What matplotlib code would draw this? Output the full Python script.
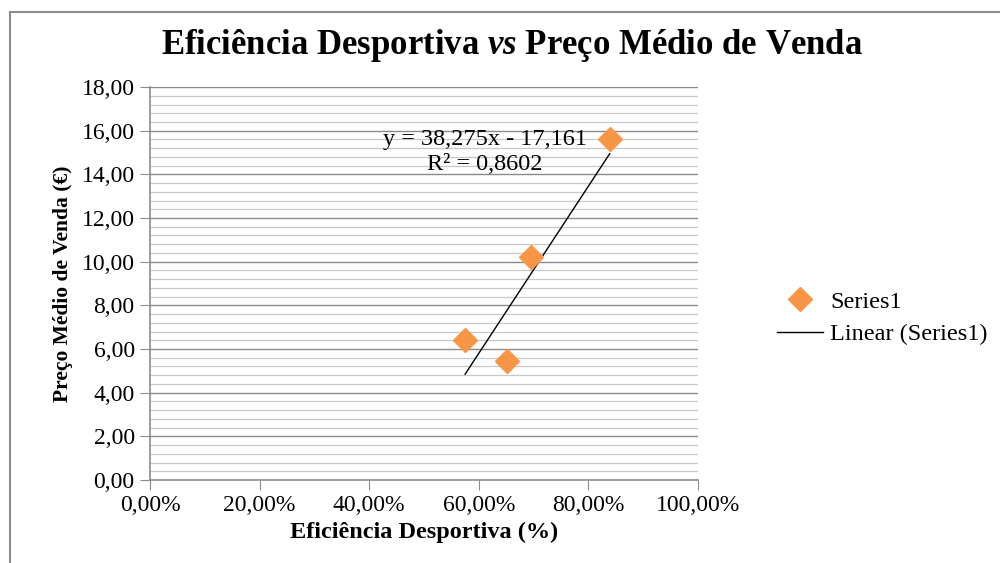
import matplotlib.pyplot as plt
import matplotlib.lines as mlines
import numpy as np
from matplotlib.ticker import MultipleLocator, FuncFormatter

# Eficiência desportiva vs preço médio de venda
eficiencia = [0.839, 0.695, 0.575, 0.651]
preco = [15.62, 10.20, 6.41, 5.45]

# recta de tendência (Excel)
declive = 38.275
ordenada = -17.161
r2 = 0.8602

laranja = '#F79646'
plt.rcParams['font.family'] = ['Liberation Serif', 'DejaVu Serif']
plt.rcParams['mathtext.fontset'] = 'custom'
plt.rcParams['mathtext.rm'] = 'Liberation Serif'
plt.rcParams['mathtext.bfit'] = 'Liberation Serif:italic:bold'

fig = plt.figure(figsize=(10, 5.63), dpi=100)
ax = fig.add_axes([0.15, 0.1474, 0.548, 0.698])

# moldura do gráfico
fig.add_artist(mlines.Line2D([0.010, 1.0], [1 - 12 / 563, 1 - 12 / 563], color='#8c8c8c', lw=1.5))
fig.add_artist(mlines.Line2D([0.010, 0.010], [0, 1 - 12 / 563], color='#8c8c8c', lw=1.5))

ax.set_xlim(0, 1)
ax.set_ylim(0, 18)
ax.yaxis.set_major_locator(MultipleLocator(2))
ax.yaxis.set_minor_locator(MultipleLocator(0.4))
ax.xaxis.set_major_locator(MultipleLocator(0.2))
ax.grid(which='major', axis='y', color='#8a8a8a', lw=1)
ax.grid(which='minor', axis='y', color='#c8c8c8', lw=0.9)
ax.set_axisbelow(True)

ax.yaxis.set_major_formatter(FuncFormatter(lambda v, p: f'{v:.2f}'.replace('.', ',')))
ax.xaxis.set_major_formatter(FuncFormatter(lambda v, p: f'{v * 100:.2f}%'.replace('.', ',')))

for s in ['top', 'right']:
    ax.spines[s].set_visible(False)
for s in ['left', 'bottom']:
    ax.spines[s].set_color('#8c8c8c')
    ax.spines[s].set_linewidth(1.2)
ax.tick_params(which='major', direction='out', length=7, color='#8c8c8c', labelsize=17, pad=4)
ax.tick_params(which='minor', length=0)

xs = np.array([min(eficiencia), max(eficiencia)])
ax.plot(xs, declive * xs + ordenada, color='black', lw=1, label='Linear (Series1)')
ax.plot(eficiencia, preco, 'D', color=laranja, markersize=12, label='Series1')

ax.text(0.611, 15.35, 'y = 38,275x - 17,161', ha='center', va='baseline', fontsize=17.5)
ax.text(0.611, 14.2, 'R² = ' + f'{r2:.4f}'.replace('.', ','),
        ha='center', va='baseline', fontsize=17.5)

ax.set_xlabel('Eficiência Desportiva (%)', fontsize=17.5, fontweight='bold', labelpad=4)
ax.set_ylabel('Preço Médio de Venda (€)', fontsize=15.5, fontweight='bold', labelpad=6)

fig.text(0.5125, 1 - 46 / 563, r'Eficiência Desportiva $\mathbfit{vs}$ Preço Médio de Venda',
         ha='center', va='center', fontsize=25, fontweight='bold')

h, l = ax.get_legend_handles_labels()
fig.legend(h[::-1], l[::-1], loc='center left', bbox_to_anchor=(0.755, 1 - 318 / 563),
           frameon=False, fontsize=17.5, handlelength=1.9, handletextpad=0.3,
           labelspacing=0.45)

fig.savefig('out.png')
